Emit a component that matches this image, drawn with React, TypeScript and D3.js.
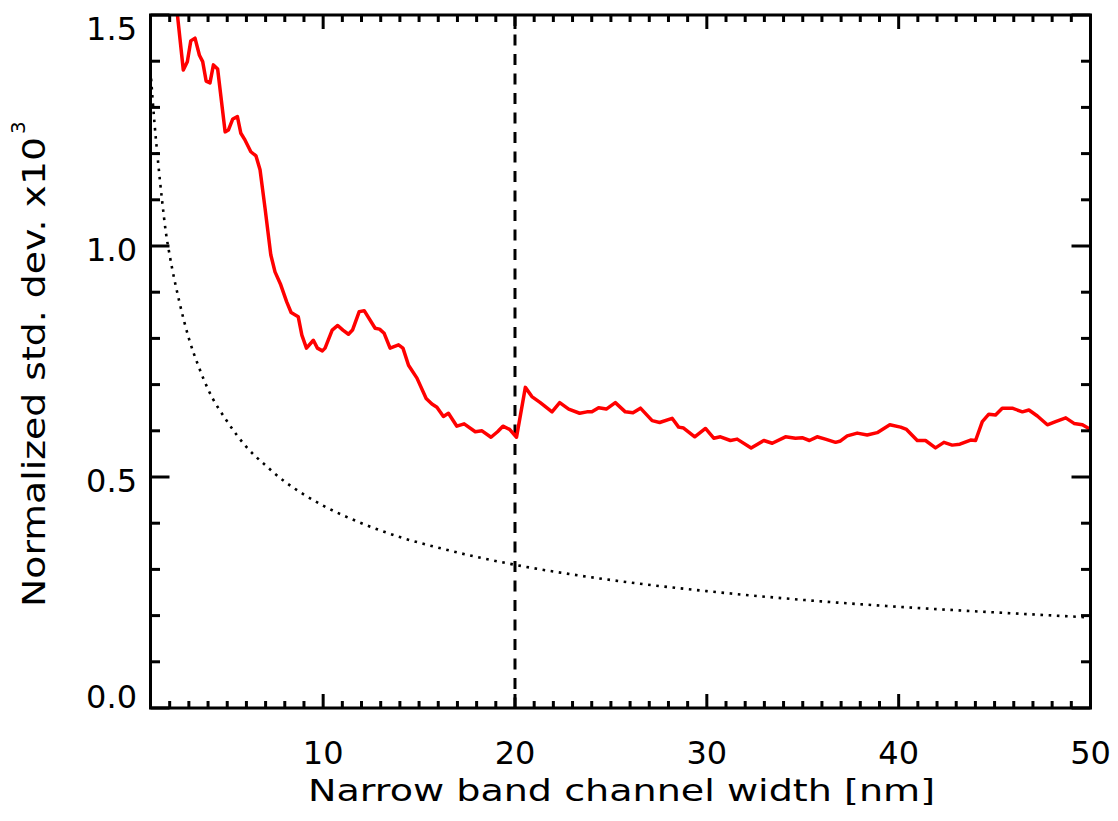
import React from "react";
import * as d3 from "d3";

// Measured curve (red): channel width [nm] and normalized std. dev. x10^3
const redX = [2.25, 2.71, 2.92, 3.1, 3.32, 3.55, 3.72, 3.9, 4.1, 4.28, 4.5, 4.89, 5.06, 5.29, 5.53, 5.71, 5.93, 6.23, 6.5, 6.71, 6.97, 7.27, 7.49, 7.79, 8.1, 8.33, 8.7, 8.89, 9.13, 9.49, 9.7, 9.96, 10.1, 10.47, 10.76, 11.03, 11.32, 11.53, 11.88, 12.14, 12.71, 12.94, 13.18, 13.49, 13.93, 14.16, 14.45, 14.89, 15.37, 15.67, 15.93, 16.27, 16.53, 16.97, 17.35, 17.93, 18.28, 18.75, 19.09, 19.37, 19.72, 20.08, 20.54, 20.88, 21.32, 21.93, 22.33, 22.8, 23.37, 23.75, 24.01, 24.36, 24.76, 25.23, 25.75, 26.15, 26.54, 27.15, 27.54, 28.19, 28.53, 28.79, 29.37, 29.93, 30.36, 30.71, 31.23, 31.58, 32.31, 32.97, 33.41, 34.1, 34.62, 34.97, 35.35, 35.75, 36.18, 36.71, 36.97, 37.32, 37.84, 38.36, 38.88, 39.54, 40.1, 40.41, 40.97, 41.4, 41.92, 42.36, 42.79, 43.19, 43.75, 44.01, 44.36, 44.7, 45.05, 45.4, 45.92, 46.45, 46.79, 47.23, 47.75, 48.18, 48.71, 49.14, 49.58, 50.0];
const redY = [1.56, 1.381, 1.399, 1.444, 1.45, 1.413, 1.399, 1.357, 1.353, 1.392, 1.383, 1.247, 1.251, 1.275, 1.28, 1.244, 1.229, 1.204, 1.195, 1.165, 1.082, 0.981, 0.944, 0.916, 0.879, 0.856, 0.847, 0.807, 0.779, 0.796, 0.779, 0.773, 0.779, 0.818, 0.828, 0.818, 0.809, 0.818, 0.858, 0.86, 0.822, 0.82, 0.811, 0.779, 0.786, 0.779, 0.742, 0.714, 0.67, 0.658, 0.651, 0.631, 0.638, 0.61, 0.615, 0.598, 0.6, 0.586, 0.598, 0.61, 0.603, 0.586, 0.694, 0.674, 0.661, 0.641, 0.661, 0.647, 0.638, 0.641, 0.641, 0.65, 0.647, 0.661, 0.641, 0.639, 0.649, 0.622, 0.618, 0.627, 0.608, 0.606, 0.587, 0.605, 0.584, 0.587, 0.579, 0.582, 0.563, 0.579, 0.573, 0.587, 0.584, 0.585, 0.579, 0.587, 0.582, 0.575, 0.578, 0.589, 0.595, 0.591, 0.596, 0.613, 0.608, 0.603, 0.579, 0.579, 0.563, 0.575, 0.569, 0.571, 0.58, 0.579, 0.62, 0.636, 0.634, 0.649, 0.649, 0.641, 0.645, 0.632, 0.613, 0.62, 0.628, 0.616, 0.613, 0.603];

// Reference curve (dotted black)
const refX = [1, 1.2, 1.4, 1.6, 1.8, 2, 2.5, 3, 3.5, 4, 5, 6, 7, 8, 9, 10, 12, 14, 16, 18, 20, 25, 30, 35, 40, 45, 50];
const refY = [1.38, 1.27, 1.18, 1.1, 1.03, 0.98, 0.88, 0.8, 0.74, 0.69, 0.62, 0.565, 0.525, 0.49, 0.462, 0.438, 0.4, 0.37, 0.347, 0.327, 0.31, 0.277, 0.253, 0.234, 0.219, 0.207, 0.196];

const xMajorTicks = [10, 20, 30, 40, 50];
const yMajorTicks = [0.0, 0.5, 1.0, 1.5];
const xTickLabels = ["10", "20", "30", "40", "50"];
const yTickLabels = ["0.0", "0.5", "1.0", "1.5"];
const cutoffX = 20;
const xLabel = "Narrow band channel width [nm]";
const yLabel = "Normalized std. dev. x10";
const yLabelSup = "3";

const W = 1118;
const H = 821;
const L = 150.5, R = 1090.5, T = 15, B = 708;
const FONT = "'DejaVu Sans', sans-serif";

export default function App() {
  const x = d3.scaleLinear().domain([1, 50]).range([L, R]);
  const y = d3.scaleLinear().domain([0, 1.5]).range([B, T]);

  const redLine = d3
    .line<number>()
    .x((_, i) => x(redX[i]))
    .y((d) => y(d))(redY) as string;

  const refLine = d3
    .line<number>()
    .curve(d3.curveMonotoneX)
    .x((_, i) => x(refX[i]))
    .y((d) => y(d))(refY) as string;

  const xMinor = d3.range(2, 50).filter((v) => !xMajorTicks.includes(v));
  const yMinor = d3.range(1, 15).map((v) => v / 10).filter((v) => Math.abs(v - 0.5) > 1e-6 && Math.abs(v - 1.0) > 1e-6);

  const xMajLen = 14, xMinLen = 7, yMajLen = 19, yMinLen = 9.5;
  const tw = 3;

  return (
    <svg
      width={W}
      height={H}
      style={{ position: "absolute", left: 0, top: 0, background: "#fff" }}
      fontFamily={FONT}
    >
      <defs>
        <clipPath id="plotClip">
          <rect x={L} y={T} width={R - L} height={B - T} />
        </clipPath>
      </defs>
      <rect x={0} y={0} width={W} height={H} fill="#fff" />

      <g clipPath="url(#plotClip)">
        <path d={refLine} fill="none" stroke="#000" strokeWidth={2.6} strokeDasharray="2.6 5.6" />
        <line
          x1={x(cutoffX)}
          x2={x(cutoffX)}
          y1={T}
          y2={B}
          stroke="#000"
          strokeWidth={3}
          strokeDasharray="11 8.5"
        />
        <path d={redLine} fill="none" stroke="#ff0000" strokeWidth={3.5} strokeLinejoin="round" />
      </g>

      {/* ticks */}
      <g stroke="#000" strokeWidth={tw}>
        {xMajorTicks.map((v) => (
          <g key={"xm" + v}>
            <line x1={x(v)} x2={x(v)} y1={B} y2={B - xMajLen} />
            <line x1={x(v)} x2={x(v)} y1={T} y2={T + xMajLen} />
          </g>
        ))}
        {xMinor.map((v) => (
          <g key={"xn" + v}>
            <line x1={x(v)} x2={x(v)} y1={B} y2={B - xMinLen} />
            <line x1={x(v)} x2={x(v)} y1={T} y2={T + xMinLen} />
          </g>
        ))}
        {yMajorTicks.map((v) => (
          <g key={"ym" + v}>
            <line x1={L} x2={L + yMajLen} y1={y(v)} y2={y(v)} />
            <line x1={R} x2={R - yMajLen} y1={y(v)} y2={y(v)} />
          </g>
        ))}
        {yMinor.map((v) => (
          <g key={"yn" + v}>
            <line x1={L} x2={L + yMinLen} y1={y(v)} y2={y(v)} />
            <line x1={R} x2={R - yMinLen} y1={y(v)} y2={y(v)} />
          </g>
        ))}
      </g>

      {/* frame */}
      <rect x={L} y={T} width={R - L} height={B - T} fill="none" stroke="#000" strokeWidth={3} />

      {/* tick labels */}
      <g fontSize={32} fill="#000">
        {xMajorTicks.map((v, i) => (
          <text key={"xl" + v} x={x(v)} y={764} textAnchor="middle">
            {xTickLabels[i]}
          </text>
        ))}
        {yMajorTicks.map((v, i) => {
          const cy = Math.min(Math.max(y(v) + 3, T + 13), B - 12);
          return (
            <text key={"yl" + v} x={137} y={cy + 12} textAnchor="end">
              {yTickLabels[i]}
            </text>
          );
        })}
      </g>

      {/* axis titles */}
      <text
        x={308}
        y={801}
        fontSize={30}
        textLength={627}
        lengthAdjust="spacingAndGlyphs"
        fill="#000"
      >
        {xLabel}
      </text>
      <text
        transform={`translate(45,607) rotate(-90)`}
        fontSize={32}
        textLength={470}
        lengthAdjust="spacingAndGlyphs"
        fill="#000"
      >
        {yLabel}
      </text>
      <text transform={`translate(25,134) rotate(-90)`} fontSize={20} fill="#000">
        {yLabelSup}
      </text>
    </svg>
  );
}
